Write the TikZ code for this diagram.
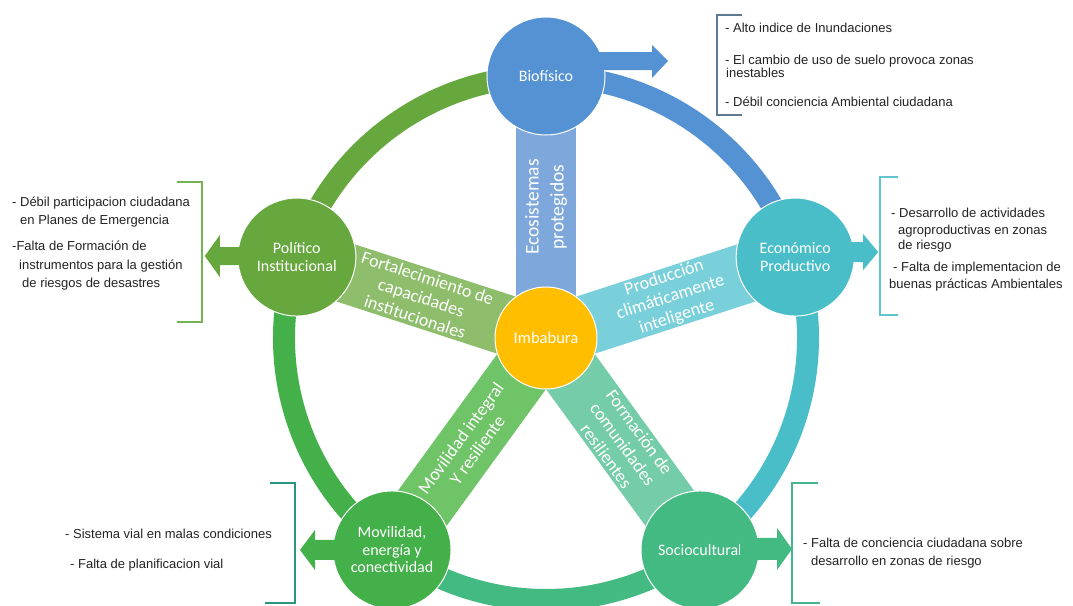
\documentclass[tikz,border=0pt]{standalone}
\usepackage{fontspec}
\setmainfont{Liberation Sans}
\newfontfamily\calib{Carlito}
\usetikzlibrary{calc,backgrounds}
\definecolor{cBio}{RGB}{84,146,212}
\definecolor{cEco}{RGB}{74,190,200}
\definecolor{cSoc}{RGB}{66,186,130}
\definecolor{cMov}{RGB}{68,176,74}
\definecolor{cPol}{RGB}{102,168,62}
\definecolor{cImb}{RGB}{255,190,0}
\definecolor{sBio}{RGB}{126,168,220}
\definecolor{sEco}{RGB}{122,208,218}
\definecolor{sSoc}{RGB}{116,204,168}
\definecolor{sMov}{RGB}{112,196,104}
\definecolor{sPol}{RGB}{142,190,108}
\definecolor{kBio}{RGB}{96,122,150}
\definecolor{kEco}{RGB}{96,196,204}
\definecolor{kPol}{RGB}{120,176,84}
\definecolor{kMov}{RGB}{40,150,128}
\definecolor{kSoc}{RGB}{70,180,140}
\definecolor{txt}{RGB}{35,35,35}
\begin{document}
\begin{tikzpicture}[x=1pt,y=-1pt,
  hub/.style={circle,minimum size=118pt,inner sep=0pt,draw=white,line width=1pt,text=white,
    font=\calib\fontsize{16}{17.5}\selectfont,align=center},
  core/.style={circle,minimum size=102pt,inner sep=0pt,draw=white,line width=1pt,text=white,
    font=\calib\fontsize{16.5}{18}\selectfont},
  ring/.style={line width=22pt},
  spoke/.style={line width=60pt},
  spoketext/.style={text=white,font=\calib\fontsize{18}{20.5}\selectfont,align=center,inner sep=0pt},
  side/.style={text=txt,font=\fontsize{13}{15}\selectfont,inner sep=0pt,anchor=base west},
  brk/.style={line width=1.6pt}
]
\useasboundingbox (0,0) rectangle (1073,605);
\coordinate (C) at (546,338);
% nodes
\node[core,fill=cImb] (imb) at (C) {Imbabura};
\node[hub,fill=cBio] (bio) at ($(C)+(-90:262)$) {Biofísico};
\node[hub,fill=cEco] (eco) at ($(C)+(-18:262)$) {Económico\\Productivo};
\node[hub,fill=cSoc] (soc) at ($(C)+(54:262)$) {Sociocultural};
\node[hub,fill=cMov] (mov) at ($(C)+(126:262)$) {Movilidad,\\energía y\\conectividad};
\node[hub,fill=cPol] (pol) at ($(C)+(198:262)$) {Político\\Institucional};
% ring and spokes
\begin{scope}[on background layer]
  \fill[white] (0,0) rectangle (1073,605);
  \draw[ring,cBio] ($(C)+(-90:262)$) arc[start angle=-90,end angle=-18,radius=262];
  \draw[ring,cEco] ($(C)+(-18:262)$) arc[start angle=-18,end angle=54,radius=262];
  \draw[ring,cSoc] ($(C)+(54:262)$) arc[start angle=54,end angle=126,radius=262];
  \draw[ring,cMov] ($(C)+(126:262)$) arc[start angle=126,end angle=198,radius=262];
  \draw[ring,cPol] ($(C)+(198:262)$) arc[start angle=198,end angle=270,radius=262];
  \draw[spoke,sBio] (imb.center) -- (bio.center);
  \draw[spoke,sEco] (imb.center) -- (eco.center);
  \draw[spoke,sSoc] (imb.center) -- (soc.center);
  \draw[spoke,sMov] (imb.center) -- (mov.center);
  \draw[spoke,sPol] (imb.center) -- (pol.center);
\end{scope}
% spoke labels
\node[spoketext,rotate=90,font=\calib\fontsize{19.5}{25}\selectfont] (tBio) at ($(imb.center)!0.5!(bio.center)$) {Ecosistemas\\protegidos};
\node[spoketext,rotate=18] (tEco) at ($(imb.center)!0.5!(eco.center)$) {Producción\\climáticamente\\inteligente};
\node[spoketext,rotate=-54] (tSoc) at ($(imb.center)!0.5!(soc.center)$) {Formación de\\comunidades\\resilientes};
\node[spoketext,rotate=54] (tMov) at ($(imb.center)!0.5!(mov.center)$) {Movilidad integral\\Y resiliente};
\node[spoketext,rotate=-18] (tPol) at ($(imb.center)!0.5!(pol.center)$) {Fortalecimiento de\\capacidades\\institucionales};
% block arrows
\fill[cBio] ($(bio.center)+(40,-24)$) -- ($(bio.center)+(106,-24)$) -- ($(bio.center)+(106,-31)$)
  -- ($(bio.center)+(122,-15)$) -- ($(bio.center)+(106,2)$) -- ($(bio.center)+(106,-6)$)
  -- ($(bio.center)+(40,-6)$) -- cycle;
\fill[cEco] ($(eco.center)+(40,-15)$) -- ($(eco.center)+(68,-15)$) -- ($(eco.center)+(68,-23)$)
  -- ($(eco.center)+(83,-5)$) -- ($(eco.center)+(68,13)$) -- ($(eco.center)+(68,5)$)
  -- ($(eco.center)+(40,5)$) -- cycle;
\fill[cSoc] ($(soc.center)+(40,-12)$) -- ($(soc.center)+(77,-12)$) -- ($(soc.center)+(77,-22)$)
  -- ($(soc.center)+(92,-1)$) -- ($(soc.center)+(77,20)$) -- ($(soc.center)+(77,10)$)
  -- ($(soc.center)+(40,10)$) -- cycle;
\fill[cMov] ($(mov.center)+(-40,-10)$) -- ($(mov.center)+(-77,-10)$) -- ($(mov.center)+(-77,-20)$)
  -- ($(mov.center)+(-92,0)$) -- ($(mov.center)+(-77,20)$) -- ($(mov.center)+(-77,10)$)
  -- ($(mov.center)+(-40,10)$) -- cycle;
\fill[cPol] ($(pol.center)+(-40,-10)$) -- ($(pol.center)+(-77,-10)$) -- ($(pol.center)+(-77,-22)$)
  -- ($(pol.center)+(-92,-1)$) -- ($(pol.center)+(-77,20)$) -- ($(pol.center)+(-77,8)$)
  -- ($(pol.center)+(-40,8)$) -- cycle;
% brackets
\draw[brk,kBio] (742,15) -- (717,15) -- (717,115) -- (742,115);
\draw[brk,kEco] (898,177) -- (880,177) -- (880,315) -- (898,315);
\draw[brk,kPol] (177,182) -- (202,182) -- (202,322) -- (177,322);
\draw[brk,kMov] (270,483) -- (295,483) -- (295,603) -- (265,603);
\draw[brk,kSoc] (818,483) -- (792,483) -- (792,603) -- (820,603);
% side texts
\node[side] (b1) at (725,32.5) {- Alto indice de Inundaciones};
\node[side] (b2) at (725,64) {- El cambio de uso de suelo provoca zonas};
\node[side] (b2b) at (726,77.5) {inestables};
\node[side] (b3) at (725,106.5) {- Débil conciencia Ambiental ciudadana};
\node[side] (p1) at (12,206.5) {- Débil participacion ciudadana};
\node[side] (p1b) at (20,224.5) {en Planes de Emergencia};
\node[side] (p2) at (12,250.5) {-Falta de Formación de};
\node[side] (p2b) at (19,269) {instrumentos para la gestión};
\node[side] (p2c) at (22,287) {de riesgos de desastres};
\node[side] (e1) at (891,217) {- Desarrollo de actividades};
\node[side] (e1b) at (898,234) {agroproductivas en zonas};
\node[side] (e1c) at (898,249) {de riesgo};
\node[side] (e2) at (893,271) {- Falta de implementacion de};
\node[side] (e2b) at (889,288) {buenas prácticas Ambientales};
\node[side] (m1) at (65,538) {- Sistema vial en malas condiciones};
\node[side] (m2) at (70,568.5) {- Falta de planificacion vial};
\node[side] (s1) at (803,547.5) {- Falta de conciencia ciudadana sobre};
\node[side] (s1b) at (811,565.5) {desarrollo en zonas de riesgo};
\end{tikzpicture}
\end{document}
